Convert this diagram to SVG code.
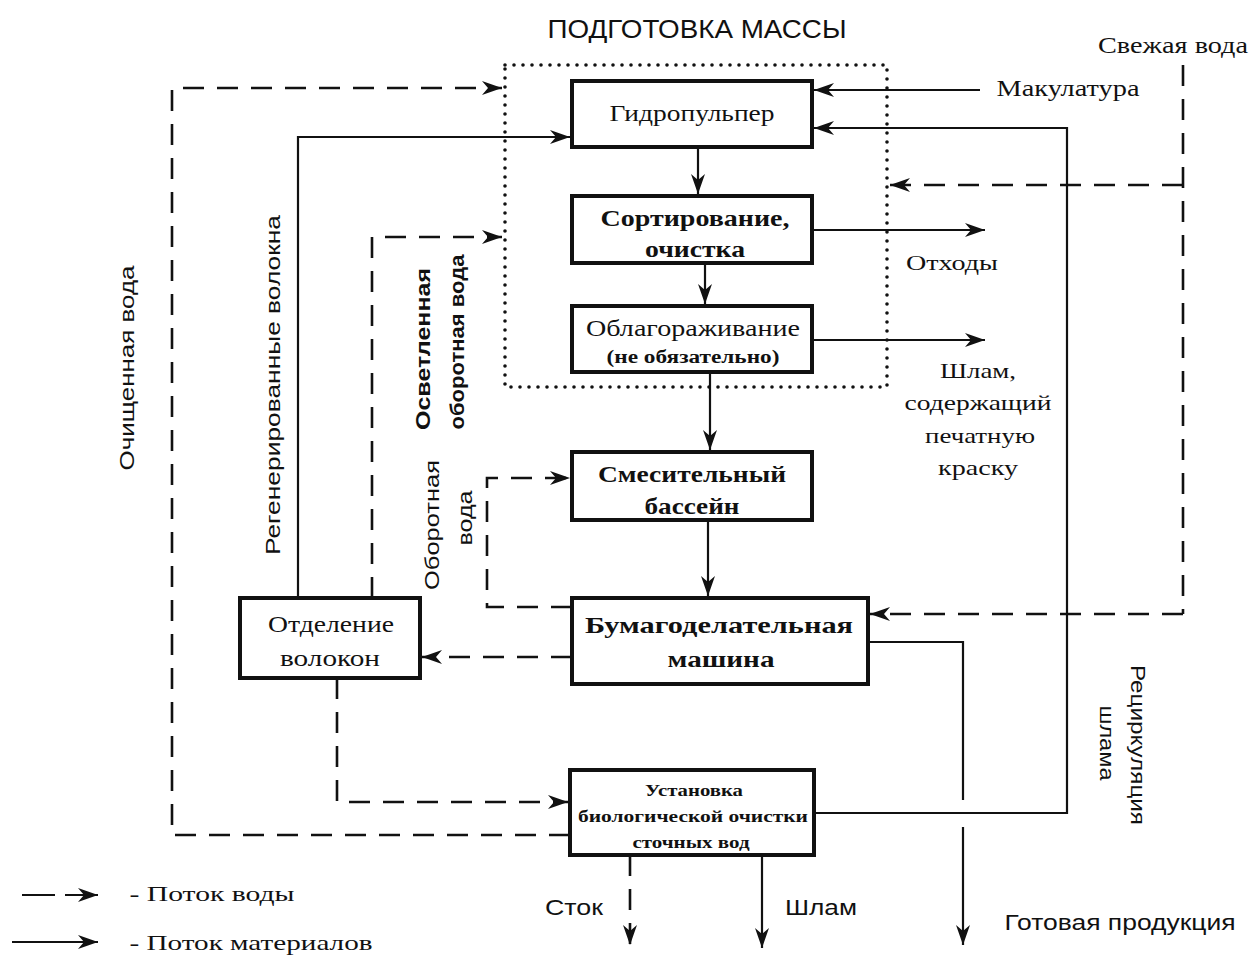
<svg xmlns="http://www.w3.org/2000/svg" width="1252" height="958" viewBox="0 0 1252 958">
<style>
.box{fill:#fff;stroke:#111;stroke-width:4}
.ln{fill:none;stroke:#111;stroke-width:2.2}
.dl{fill:none;stroke:#111;stroke-width:2.6;stroke-dasharray:21 13}
.dot{fill:none;stroke:#111;stroke-width:3.6;stroke-linecap:round;stroke-dasharray:0 9}
.sf{font-family:"Liberation Serif","Times New Roman",serif;fill:#111}
.ss{font-family:"Liberation Sans",Arial,sans-serif;fill:#111}
.b{font-weight:bold}
text{text-anchor:middle}
</style>
<defs>
<marker id="ar" markerUnits="userSpaceOnUse" markerWidth="22" markerHeight="14" refX="20" refY="7" orient="auto">
<path d="M0,0 L20,7 L0,14 L6,7 Z" fill="#111"/>
</marker>
</defs>
<rect width="1252" height="958" fill="#fff"/>

<text class="ss" x="697" y="38" font-size="25" textLength="299" lengthAdjust="spacingAndGlyphs">ПОДГОТОВКА МАССЫ</text>
<rect id="prep-area" x="505" y="65" width="382" height="322" class="dot"/>

<g id="connectors">
  <line class="ln" x1="698" y1="147" x2="698" y2="194" marker-end="url(#ar)"/>
  <line class="ln" x1="705" y1="263" x2="705" y2="304" marker-end="url(#ar)"/>
  <line class="ln" x1="710" y1="372" x2="710" y2="450" marker-end="url(#ar)"/>
  <line class="ln" x1="708" y1="520" x2="708" y2="596" marker-end="url(#ar)"/>
  <line class="ln" x1="980" y1="90" x2="814" y2="90" marker-end="url(#ar)"/>
  <line class="ln" x1="813" y1="230" x2="985" y2="230" marker-end="url(#ar)"/>
  <line class="ln" x1="813" y1="340" x2="985" y2="340" marker-end="url(#ar)"/>
  <polyline class="ln" points="814,813 1067,813 1067,128 814,128" marker-end="url(#ar)"/>
  <polyline class="ln" points="868,642 963,642 963,800"/>
  <line class="ln" x1="963" y1="827" x2="963" y2="945" marker-end="url(#ar)"/>
  <line class="ln" x1="762" y1="855" x2="762" y2="948" marker-end="url(#ar)"/>
  <line class="dl" x1="630" y1="855" x2="630" y2="945" marker-end="url(#ar)"/>
  <polyline class="ln" points="298,598 298,137 570,137" marker-end="url(#ar)"/>
  <polyline class="dl" points="372,598 372,237 502,237" marker-end="url(#ar)"/>
  <polyline class="dl" points="570,835 172,835 172,88 502,88" marker-end="url(#ar)"/>
  <polyline class="dl" points="572,607 487,607 487,478 570,478" marker-end="url(#ar)"/>
  <line class="dl" x1="572" y1="657" x2="422" y2="657" marker-end="url(#ar)"/>
  <polyline class="dl" points="337,678 337,802 568,802" marker-end="url(#ar)"/>
  <line class="dl" x1="1183" y1="65" x2="1183" y2="614"/>
  <line class="dl" x1="1183" y1="185" x2="890" y2="185" marker-end="url(#ar)"/>
  <line class="dl" x1="1183" y1="614" x2="870" y2="614" marker-end="url(#ar)"/>
  <line class="ln" x1="22" y1="895" x2="55" y2="895" stroke-width="3"/>
  <line class="ln" x1="65" y1="895" x2="98" y2="895" stroke-width="3" marker-end="url(#ar)"/>
  <line class="ln" x1="12" y1="942" x2="98" y2="942" marker-end="url(#ar)"/>
</g>

<g id="gidropulper">
  <rect class="box" x="572" y="81" width="240" height="66"/>
  <text class="sf" x="692" y="121" font-size="24" textLength="165" lengthAdjust="spacingAndGlyphs">Гидропульпер</text>
</g>
<g id="sortirovanie">
  <rect class="box" x="572" y="196" width="240" height="67"/>
  <text class="sf b" x="695" y="226" font-size="23" textLength="189" lengthAdjust="spacingAndGlyphs">Сортирование,</text>
  <text class="sf b" x="695" y="257" font-size="23" textLength="100" lengthAdjust="spacingAndGlyphs">очистка</text>
</g>
<g id="oblagorazhivanie">
  <rect class="box" x="572" y="306" width="240" height="66"/>
  <text class="sf" x="693" y="336" font-size="23" textLength="214" lengthAdjust="spacingAndGlyphs">Облагораживание</text>
  <text class="sf b" x="693" y="363" font-size="18" textLength="173" lengthAdjust="spacingAndGlyphs">(не обязательно)</text>
</g>
<g id="smesitelny">
  <rect class="box" x="572" y="452" width="240" height="68"/>
  <text class="sf b" x="692" y="482" font-size="23" textLength="188" lengthAdjust="spacingAndGlyphs">Смесительный</text>
  <text class="sf b" x="692" y="514" font-size="23" textLength="95" lengthAdjust="spacingAndGlyphs">бассейн</text>
</g>
<g id="bdm">
  <rect class="box" x="572" y="598" width="296" height="86"/>
  <text class="sf b" x="719" y="633" font-size="24" textLength="268" lengthAdjust="spacingAndGlyphs">Бумагоделательная</text>
  <text class="sf b" x="721" y="667" font-size="24" textLength="107" lengthAdjust="spacingAndGlyphs">машина</text>
</g>
<g id="otdelenie">
  <rect class="box" x="240" y="598" width="180" height="80"/>
  <text class="sf" x="331" y="632" font-size="23" textLength="126" lengthAdjust="spacingAndGlyphs">Отделение</text>
  <text class="sf" x="330" y="666" font-size="23" textLength="100" lengthAdjust="spacingAndGlyphs">волокон</text>
</g>
<g id="ustanovka">
  <rect class="box" x="570" y="770" width="244" height="85" stroke-width="3.5"/>
  <text class="sf b" x="694" y="796" font-size="17" textLength="98" lengthAdjust="spacingAndGlyphs">Установка</text>
  <text class="sf b" x="693" y="822" font-size="17" textLength="230" lengthAdjust="spacingAndGlyphs">биологической очистки</text>
  <text class="sf b" x="691" y="848" font-size="17" textLength="117" lengthAdjust="spacingAndGlyphs">сточных вод</text>
</g>

<g id="labels">
  <text class="sf" x="1068" y="96" font-size="23" textLength="143" lengthAdjust="spacingAndGlyphs">Макулатура</text>
  <text class="sf" x="1173" y="53" font-size="23" textLength="150" lengthAdjust="spacingAndGlyphs">Свежая вода</text>
  <text class="sf" x="952" y="270" font-size="22" textLength="92" lengthAdjust="spacingAndGlyphs">Отходы</text>
  <text class="sf" x="978" y="378" font-size="22" textLength="76" lengthAdjust="spacingAndGlyphs">Шлам,</text>
  <text class="sf" x="978" y="410" font-size="22" textLength="147" lengthAdjust="spacingAndGlyphs">содержащий</text>
  <text class="sf" x="980" y="443" font-size="22" textLength="110" lengthAdjust="spacingAndGlyphs">печатную</text>
  <text class="sf" x="978" y="475" font-size="22" textLength="80" lengthAdjust="spacingAndGlyphs">краску</text>
  <text class="ss" x="574" y="915" font-size="22" textLength="58" lengthAdjust="spacingAndGlyphs">Сток</text>
  <text class="ss" x="821" y="915" font-size="22" textLength="72" lengthAdjust="spacingAndGlyphs">Шлам</text>
  <text class="ss" x="1120" y="930" font-size="22" textLength="231" lengthAdjust="spacingAndGlyphs">Готовая продукция</text>
  <text class="sf" x="212" y="901" font-size="22" textLength="165" lengthAdjust="spacingAndGlyphs">- Поток воды</text>
  <text class="sf" x="251" y="950" font-size="22" textLength="243" lengthAdjust="spacingAndGlyphs">- Поток материалов</text>
  <text class="ss" transform="translate(134,368) rotate(-90)" font-size="21" textLength="205" lengthAdjust="spacingAndGlyphs">Очищенная  вода</text>
  <text class="ss" transform="translate(280,385) rotate(-90)" font-size="21" textLength="340" lengthAdjust="spacingAndGlyphs">Регенерированные  волокна</text>
  <text class="ss b" transform="translate(430,349) rotate(-90)" font-size="21" textLength="162" lengthAdjust="spacingAndGlyphs">Осветленная</text>
  <text class="ss b" transform="translate(464,342) rotate(-90)" font-size="21" textLength="175" lengthAdjust="spacingAndGlyphs">оборотная вода</text>
  <text class="ss" transform="translate(439,525) rotate(-90)" font-size="21" textLength="130" lengthAdjust="spacingAndGlyphs">Оборотная</text>
  <text class="ss" transform="translate(472,518) rotate(-90)" font-size="21" textLength="55" lengthAdjust="spacingAndGlyphs">вода</text>
  <text class="ss" transform="translate(1131,745) rotate(90)" font-size="21" textLength="160" lengthAdjust="spacingAndGlyphs">Рециркуляция</text>
  <text class="ss" transform="translate(1100,743) rotate(90)" font-size="21" textLength="75" lengthAdjust="spacingAndGlyphs">шлама</text>
</g>
</svg>
